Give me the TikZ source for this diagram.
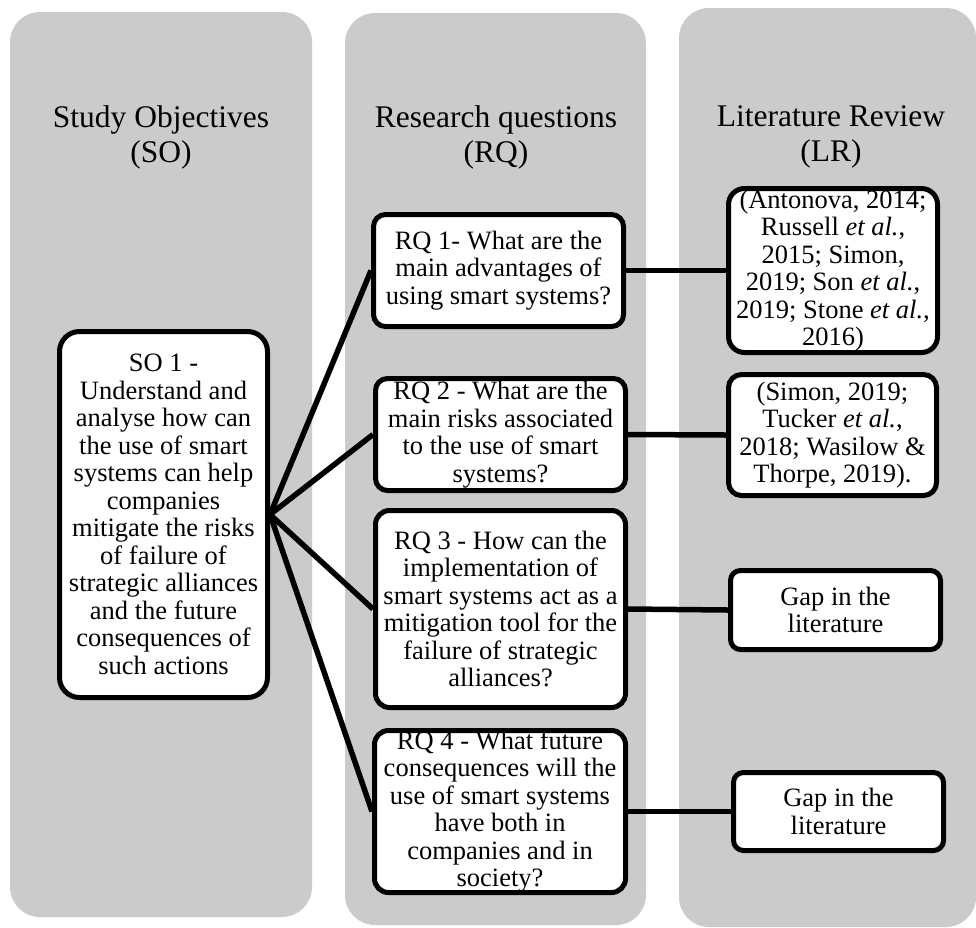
\documentclass[tikz,border=0pt]{standalone}
\usepackage{fontspec}
\setmainfont{Liberation Serif}
\definecolor{colgray}{RGB}{203,203,203}
\pgfdeclarelayer{bg}
\pgfdeclarelayer{links}
\pgfsetlayers{bg,links,main}
\tikzset{
  colbg/.style={fill=colgray, draw=none, rounded corners=30pt, inner sep=0},
  coltitle/.style={font=\fontsize{31.5}{35}\selectfont, align=center, inner sep=0},
  itembox/.style={draw=black, line width=5pt, fill=white, align=center, inner sep=0,
                  font=\fontsize{26.5}{27.5}\selectfont},
  link/.style={draw=black, line width=5.5pt}
}
\begin{document}
\begin{tikzpicture}[x=1pt,y=-1pt]
\useasboundingbox (0,0) rectangle (976,927);
% columns
\begin{pgfonlayer}{bg}
\node[colbg, minimum width=302, minimum height=905] (c1) at (161,464.5) {};
\node[colbg, minimum width=301, minimum height=912] (c2) at (495.5,469) {};
\node[colbg, minimum width=297, minimum height=919] (c3) at (827.5,467.5) {};
\end{pgfonlayer}
% titles
\node[coltitle] (t1) at (161,137) {Study Objectives\\(SO)};
\node[coltitle] (t2) at (496,137) {Research questions\\(RQ)};
\node[coltitle] (t3) at (831,137) {Literature Review\\(LR)};
% study objective
\node[itembox, minimum width=208, minimum height=366, rounded corners=20pt] (so) at (163.5,514.5)
  {SO 1 -\\Understand and\\analyse how can\\the use of smart\\systems can help\\companies\\mitigate the risks\\of failure of\\strategic alliances\\and the future\\consequences of\\such actions};
% research questions
\node[itembox, minimum width=250, minimum height=112, rounded corners=12pt] (rq1) at (498.5,270.5)
  {RQ 1- What are the\\main advantages of\\using smart systems?};
\node[itembox, minimum width=250, minimum height=112, rounded corners=12pt] (rq2) at (500.5,434.5)
  {RQ 2 - What are the\\main risks associated\\to the use of smart\\systems?};
\node[itembox, minimum width=250, minimum height=197, rounded corners=14pt] (rq3) at (500.5,609)
  {RQ 3 - How can the\\implementation of\\smart systems act as a\\mitigation tool for the\\failure of strategic\\alliances?};
\node[itembox, minimum width=251, minimum height=162, rounded corners=14pt] (rq4) at (500,811.5)
  {RQ 4 - What future\\consequences will the\\use of smart systems\\have both in\\companies and in\\society?};
% literature review
\node[itembox, minimum width=209, minimum height=164, rounded corners=16pt] (lr1) at (833,270.5)
  {(Antonova, 2014;\\Russell \textit{et al.},\\2015; Simon,\\2019; Son \textit{et al.},\\2019; Stone \textit{et al.},\\2016)};
\node[itembox, minimum width=208, minimum height=121, rounded corners=13pt] (lr2) at (832.5,435)
  {(Simon, 2019;\\Tucker \textit{et al.},\\2018; Wasilow \&\\Thorpe, 2019).};
\node[itembox, minimum width=210, minimum height=79, rounded corners=10pt] (lr3) at (835.5,610)
  {Gap in the\\literature};
\node[itembox, minimum width=210, minimum height=78, rounded corners=10pt] (lr4) at (838.5,811.5)
  {Gap in the\\literature};
% connectors
\begin{pgfonlayer}{links}
\draw[link] (so.east) -- (rq1.west);
\draw[link] (so.east) -- (rq2.west);
\draw[link] (so.east) -- (rq3.west);
\draw[link] (so.east) -- (rq4.west);
\draw[link] (rq1.east) -- (lr1.west);
\draw[link] (rq2.east) -- (lr2.west);
\draw[link] (rq3.east) -- (lr3.west);
\draw[link] (rq4.east) -- (lr4.west);
\end{pgfonlayer}
\end{tikzpicture}
\end{document}
